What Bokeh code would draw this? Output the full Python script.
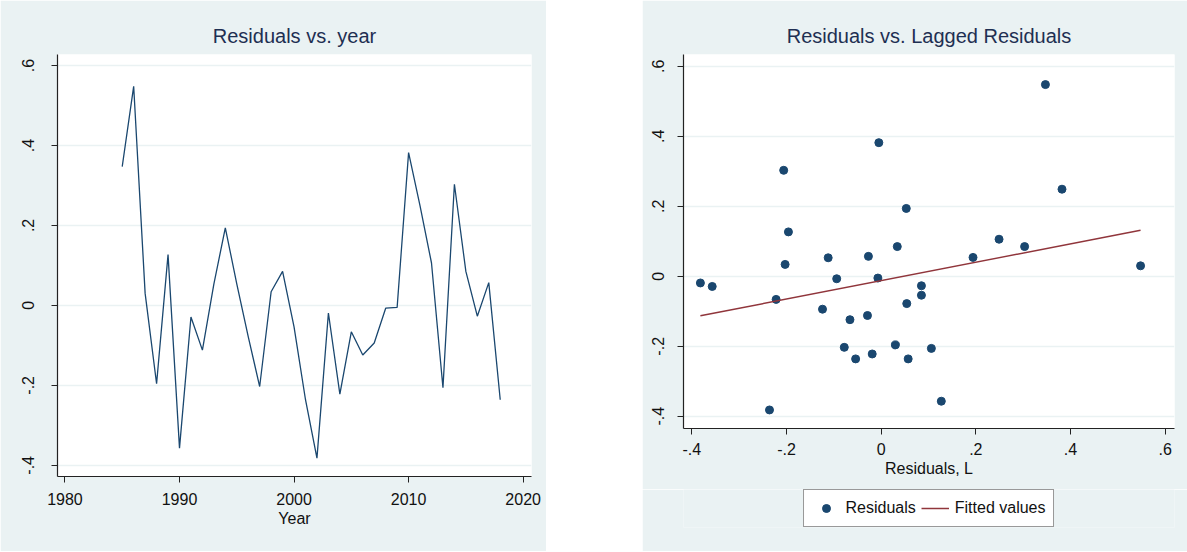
import math
import numpy as np
from bokeh.plotting import figure
from bokeh.layouts import row, column
from bokeh.models import FixedTicker, Legend, LegendItem, Range1d
from bokeh.embed import file_html
from bokeh.resources import INLINE

years = list(range(1985, 2019))
residuals = [0.347, 0.548, 0.030, -0.196, 0.127, -0.357, -0.029, -0.112, 0.053, 0.194,
             0.054, -0.078, -0.203, 0.034, 0.085, -0.054, -0.236, -0.382, -0.019, -0.222,
             -0.066, -0.124, -0.094, -0.007, -0.005, 0.382, 0.249, 0.106, -0.206, 0.303,
             0.085, -0.027, 0.057, -0.236]

year_ticks = [1980, 1990, 2000, 2010, 2020]
res_ticks = [-0.4, -0.2, 0.0, 0.2, 0.4, 0.6]
res_tick_labels = ["-.4", "-.2", "0", ".2", ".4", ".6"]

title_left = "Residuals vs. year"
title_right = "Residuals vs. Lagged Residuals"
xlabel_left = "Year"
xlabel_right = "Residuals, L"
legend_labels = ["Residuals", "Fitted values"]

# lagged series and linear fit (as drawn by the original)
lag_x = residuals[:-1]
lag_y = residuals[1:]
slope, intercept = np.polyfit(lag_x, lag_y, 1)
fit_x = [min(lag_x), max(lag_x)]
fit_y = [intercept + slope * v for v in fit_x]

FONT = "Liberation Sans"
BG = "#eaf2f3"
NAVY = "#1a476f"
MAROON = "#90353b"
TITLE_C = "#1e2f52"
TXT = "#111111"
overrides = {t: l for t, l in zip(res_ticks, res_tick_labels)}


def style(p, xticks, xlabel, title, ylab_standoff, xlab_standoff):
    p.background_fill_color = "white"
    p.border_fill_color = BG
    p.outline_line_color = None
    p.title.text = title
    p.title.align = "center"
    p.title.text_font = FONT
    p.title.text_font_size = "20px"
    p.title.text_font_style = "normal"
    p.title.text_color = TITLE_C
    p.title.standoff = 16
    p.xgrid.visible = False
    p.ygrid.grid_line_color = BG
    p.ygrid.grid_line_width = 1.5
    p.ygrid.ticker = FixedTicker(ticks=res_ticks)
    p.xaxis.ticker = FixedTicker(ticks=xticks)
    p.yaxis.ticker = FixedTicker(ticks=res_ticks)
    p.yaxis.major_label_overrides = overrides
    p.yaxis.major_label_orientation = "vertical"
    p.yaxis.major_label_standoff = ylab_standoff
    for ax in (p.xaxis, p.yaxis):
        ax.axis_line_color = "#222222"
        ax.axis_line_width = 1.2
        ax.major_tick_line_color = "#222222"
        ax.major_tick_out = 6
        ax.major_tick_in = 0
        ax.minor_tick_line_color = None
        ax.major_label_text_font = FONT
        ax.major_label_text_font_size = "16px"
        ax.major_label_text_color = TXT
        ax.axis_label_text_font = FONT
        ax.axis_label_text_font_size = "16px"
        ax.axis_label_text_font_style = "normal"
        ax.axis_label_text_color = TXT
    p.xaxis.axis_label = xlabel
    p.xaxis.major_label_standoff = xlab_standoff
    p.xaxis.axis_label_standoff = 2


p1 = figure(frame_width=474, frame_height=422, output_backend="svg", toolbar_location=None,
            x_range=Range1d(1979.35, 2020.73), y_range=Range1d(-0.428, 0.6275),
            min_border_left=57, min_border_right=15, min_border_top=54, min_border_bottom=75)
p1.line(years, residuals, line_color=NAVY, line_width=1.3)
style(p1, year_ticks, xlabel_left, title_left, 17, 10)

p2 = figure(frame_width=491, frame_height=374, output_backend="svg", toolbar_location=None,
            x_range=Range1d(-0.4177, 0.6197), y_range=Range1d(-0.435, 0.634),
            min_border_left=41, min_border_right=13, min_border_top=54, min_border_bottom=61)
p2.scatter(lag_x, lag_y, size=8, color=NAVY)
p2.line(fit_x, fit_y, line_color=MAROON, line_width=1.5)
style(p2, res_ticks, xlabel_right, title_right, 13, 8)
p2.xaxis.major_label_overrides = overrides

# legend strip under the right panel; key renderers sit outside its visible range
p3 = figure(frame_width=491, frame_height=38, output_backend="svg", toolbar_location=None,
            title=None, x_axis_type=None, y_axis_type=None,
            x_range=Range1d(0, 1), y_range=Range1d(0, 1),
            min_border_left=41, min_border_right=13, min_border_top=0, min_border_bottom=24)
p3.background_fill_color = BG
p3.border_fill_color = BG
p3.outline_line_color = None
k_sc = p3.scatter(x=[-5], y=[0.5], size=8, color=NAVY)
k_fit = p3.line(x=[-6, -5], y=[0.5, 0.5], line_color=MAROON, line_width=1.5)
legend = Legend(items=[LegendItem(label=legend_labels[0], renderers=[k_sc]),
                       LegendItem(label=legend_labels[1], renderers=[k_fit])],
                orientation="horizontal", location="center",
                label_text_font=FONT, label_text_font_size="16px", label_text_color=TXT,
                border_line_color="#333333", border_line_width=1.2,
                background_fill_color="white", background_fill_alpha=1,
                glyph_width=28, label_standoff=6, spacing=5, padding=8, margin=0)
p3.add_layout(legend, "center")

layout = row(p1, column(p2, p3), spacing=96)
open("out.html", "w").write(file_html(layout, INLINE))
